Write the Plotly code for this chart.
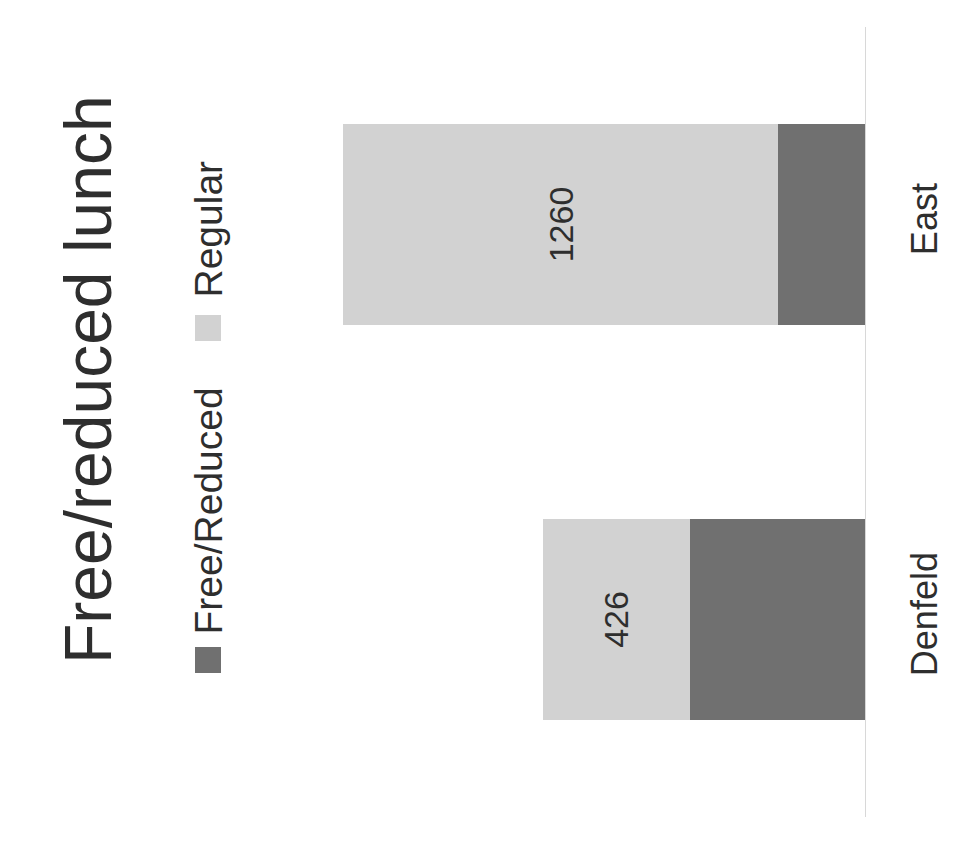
import plotly.graph_objects as go

# Students by lunch status at each school
schools = ["Denfeld", "East"]
free_reduced = [507, 252]
regular = [426, 1260]
series_names = ["Free/Reduced", "Regular"]

DARK = "#707070"
LIGHT = "#d2d2d2"
TEXT = "#2e2e2e"
FONT = "Liberation Sans, Arial, sans-serif"

W, H = 979, 845
ML, MR, MT, MB = 300, 114, 27, 28
PW, PH = W - ML - MR, H - MT - MB


def px(x):
    return (x - ML) / PW


def py(y):
    return (H - MB - y) / PH


fig = go.Figure()
fig.add_trace(go.Bar(
    y=schools, x=free_reduced, name=series_names[0], orientation="h",
    marker=dict(color=DARK, line=dict(width=0)), width=0.51,
    showlegend=False, hoverinfo="x+y",
))
fig.add_trace(go.Bar(
    y=schools, x=regular, name=series_names[1], orientation="h",
    marker=dict(color=LIGHT, line=dict(width=0)), width=0.51,
    text=[str(v) for v in regular], textposition="inside",
    insidetextanchor="middle", textangle=-90,
    textfont=dict(family=FONT, size=34, color=TEXT),
    showlegend=False, hoverinfo="x+y",
))

fig.update_layout(
    width=W, height=H, barmode="stack",
    margin=dict(l=ML, r=MR, t=MT, b=MB, pad=0),
    paper_bgcolor="white", plot_bgcolor="white",
    xaxis=dict(range=[PW * 2.897, 0], visible=False, fixedrange=True),
    yaxis=dict(
        side="right", tickangle=-90, showgrid=False, zeroline=False,
        showline=True, linecolor="#d8d8d8", linewidth=1,
        ticks="", ticklabelstandoff=28,
        tickfont=dict(family=FONT, size=36, color=TEXT),
        range=[-0.5, 1.5],
    ),
    font=dict(family=FONT),
)

# Rotated title
fig.add_annotation(
    text="Free/reduced lunch", textangle=-90, showarrow=False,
    xref="paper", yref="paper", x=px(88), y=py(380),
    xanchor="center", yanchor="middle",
    font=dict(family=FONT, size=66, color=TEXT),
)

# Rotated legend: swatch followed by its label, reading upward
legend_items = [
    (series_names[0], DARK, 660, 637),
    (series_names[1], LIGHT, 328, 300),
]
for name, color, sq_center, text_bottom in legend_items:
    fig.add_shape(
        type="rect", xref="paper", yref="paper",
        x0=px(195), x1=px(221), y0=py(sq_center + 13), y1=py(sq_center - 13),
        fillcolor=color, line=dict(width=0),
    )
    fig.add_annotation(
        text=name, textangle=-90, showarrow=False,
        xref="paper", yref="paper", x=px(208), y=py(text_bottom),
        xanchor="center", yanchor="bottom",
        font=dict(family=FONT, size=39, color=TEXT),
    )

fig.write_html("out.html")
